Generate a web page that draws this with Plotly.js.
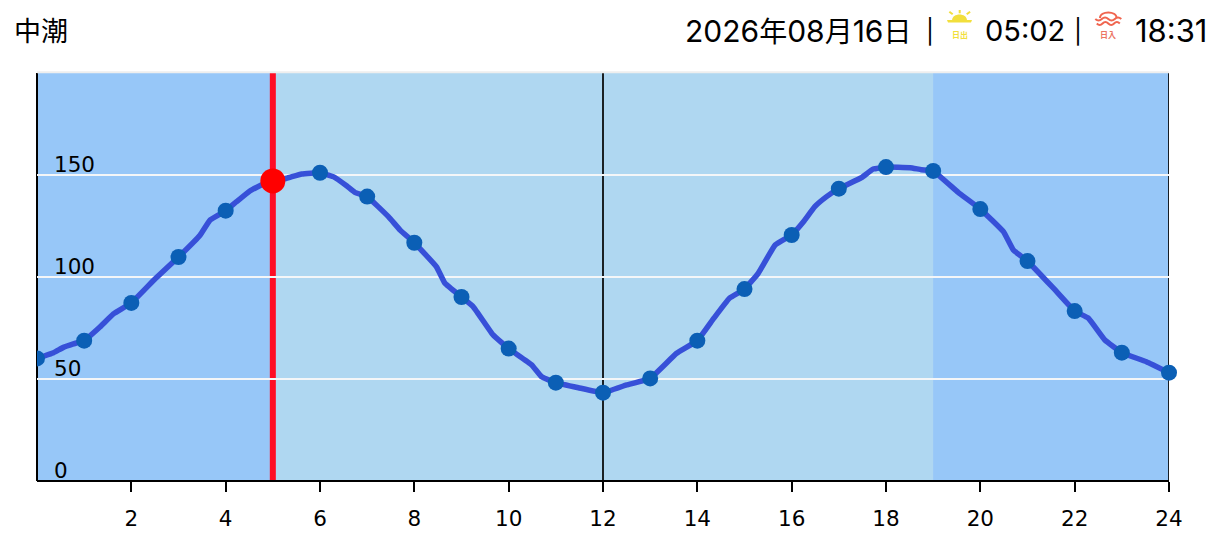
<!DOCTYPE html>
<html>
<head>
<meta charset="utf-8">
<script src="https://cdn.plot.ly/plotly-3.0.1.min.js"></script>
<style>html,body{margin:0;padding:0;background:#fff}</style>
</head>
<body>
<div id="chart" style="width:1229px;height:546px"></div>
<script>
// Tide curve
const curveHours = [0,0.35,0.56,0.77,1,1.34,1.62,2,2.5,3,3.46,3.67,4,4.23,4.52,4.8,5,5.29,5.61,6,6.28,6.57,6.74,7,7.45,7.7,8,8.47,8.65,9,9.25,9.67,10,10.49,10.7,11,11.48,12,12.5,13,13.56,14,14.35,14.68,15,15.29,15.65,16,16.25,16.49,16.74,17,17.48,17.73,18,18.51,18.75,19,19.53,20,20.49,20.7,21,21.55,22,22.29,22.64,23,23.52,24];
const curveLevels = [60.1,62.9,65.5,67.2,68.8,75.6,81.9,87.3,99.0,109.8,120.6,127.9,132.5,136.9,142.3,145.6,147.1,148.4,150.5,151.1,149.2,144.6,141.5,139.4,129.6,123.0,116.8,105.0,96.9,90.2,85.4,71.6,64.9,56.9,51.1,48.2,45.7,43.3,47.1,50.3,62.6,68.8,79.8,89.6,94.1,101.8,115.7,120.6,127.1,134.5,139.4,143.3,148.7,152.9,153.9,153.6,152.6,152.0,141.5,133.3,122.2,113.2,107.8,94.5,83.3,79.8,69.1,62.9,58.5,53.1];
// Hourly markers (the last one is allowed to overhang the plot edge)
const markerHours = [0,1,2,3,4,6,7,8,9,10,11,12,13,14,15,16,17,18,19,20,21,22,23];
const markerLevels = [60.1,68.8,87.3,109.8,132.5,151.1,139.4,116.8,90.2,64.9,48.2,43.3,50.3,68.8,94.1,120.6,143.3,153.9,152.0,133.3,107.8,83.3,62.9];
const lastHour = [24];
const lastLevel = [53.1];
// Current time
const nowHour = [5];
const nowLevel = [147.1];
// Daylight band and reference lines
const dayStart = 5, dayEnd = 19;
const blackLineHours = [12, 24];
// Axis ticks
const xTicks = [2,4,6,8,10,12,14,16,18,20,22,24];
const yTicks = [0,50,100,150];
// Header text
const tideName = '中潮';
const sep = '|';
const sunriseText = '05:02';
const sunsetText = '18:31';

const M = {l:37, r:60, t:73, b:65}, W = 1229, H = 546;
const PW = W - M.l - M.r, PH = H - M.t - M.b;
const X = px => (px - M.l) / PW;
const Y = py => (H - M.b - py) / PH;
const FONT = '"Noto Sans CJK JP", sans-serif';
const HEAD = 'Inter, "Noto Sans CJK JP", sans-serif';
const TICK = {family:'"DejaVu Sans", sans-serif', size:21.5, color:'#000'};
const kanji = c => '<span style="font-size:28px">' + c + '</span>';
const dateText = '2026' + kanji('年') + '08' + kanji('月') + '16' + kanji('日');

const note = (text, px, py, size, color, anchor, family) => ({
  text, xref:'paper', yref:'paper', x:X(px), y:Y(py), xanchor:anchor||'left', yanchor:'middle',
  showarrow:false, borderpad:0, font:{family:family||FONT, size, color:color||'#000'}
});
const icon = (path, px, py, o) => Object.assign({
  type:'path', path, xref:'paper', yref:'paper', xsizemode:'pixel', ysizemode:'pixel',
  xanchor:X(px), yanchor:Y(py), layer:'above', line:{width:0}
}, o);

const SUN = '#f2df3c', SET = '#f0654f';
const sunLine = {line:{color:SUN, width:2}, fillcolor:'rgba(0,0,0,0)'};
const setLine = {line:{color:SET, width:2}, fillcolor:'rgba(0,0,0,0)'};

const shapes = [
  {type:'rect', layer:'below', xref:'x', yref:'paper', x0:dayStart, x1:dayEnd, y0:0, y1:1, fillcolor:'#afd7f1', line:{width:0}},
  {type:'line', layer:'between', xref:'x', yref:'paper', x0:nowHour[0], x1:nowHour[0], y0:0, y1:1, line:{color:'#ff0d25', width:6}},
  {type:'line', layer:'above', xref:'paper', yref:'paper', x0:0, x1:1, y0:1.002, y1:1.002, line:{color:'#eeeeee', width:2}},
  {type:'line', layer:'between', xref:'paper', yref:'paper', x0:0, x1:0, y0:0, y1:1, line:{color:'#000', width:2}},
  {type:'line', layer:'between', xref:'paper', yref:'paper', x0:0, x1:1, y0:0, y1:0, line:{color:'#000', width:2}},
  // sunrise icon
  icon('M-7.5,0 C-7.5,8 7.5,8 7.5,0 Z', 959.5, 20.5, {fillcolor:SUN}),
  icon('M-12.5,1 L12.5,1 L11.5,-1.5 L-11.5,-1.5 Z', 959.5, 21, {fillcolor:SUN}),
  icon('M0,0 L0,3.3', 959.7, 13.3, sunLine),
  icon('M0,0 L-3.4,2.6', 952.7, 14.3, sunLine),
  icon('M0,0 L3.4,2.6', 966.7, 14.3, sunLine),
  // sunset icon
  icon('M-8.3,0 C-8.3,7.5 8.3,7.5 8.3,0', 1108.3, 18, setLine),
  icon('M-13,0 Q-9.75,-3 -6.5,0 Q-3.25,3 0,0 Q3.25,-3 6.5,0 Q9.75,3 13,0', 1108.3, 19, setLine),
  icon('M-11.5,0 Q-8.6,-3 -5.75,0 Q-2.9,3 0,0 Q2.9,-3 5.75,0 Q8.6,3 11.5,0', 1108.3, 23.5, setLine)
];
blackLineHours.forEach(h => shapes.push({type:'line', layer:'between', xref:'x', yref:'paper', x0:h, x1:h, y0:0, y1:1, line:{color:'#000', width:1.7}}));

const data = [
  {x:curveHours, y:curveLevels, mode:'lines', line:{color:'#3750d8', width:5.5, shape:'spline', smoothing:0.3}, hoverinfo:'skip', cliponaxis:true},
  {x:markerHours, y:markerLevels, mode:'markers', marker:{color:'#0b5fb5', size:16}, hoverinfo:'skip', cliponaxis:true},
  {x:lastHour, y:lastLevel, mode:'markers', marker:{color:'#0b5fb5', size:16}, hoverinfo:'skip', cliponaxis:false},
  {x:nowHour, y:nowLevel, mode:'markers', marker:{color:'#ff0000', size:25}, hoverinfo:'skip', cliponaxis:false}
];

const yLabels = yTicks.map(v => ({
  text:String(v), xref:'paper', yref:'y', x:X(53), y:v, xanchor:'left', yanchor:'middle', yshift:11,
  showarrow:false, borderpad:0, font:TICK
}));

const layout = {
  width:W, height:H, margin:M, showlegend:false,
  paper_bgcolor:'#ffffff', plot_bgcolor:'#97c7f8',
  font:TICK,
  xaxis:{range:[0,24], tickmode:'array', tickvals:xTicks, ticktext:xTicks.map(String), ticks:'outside', ticklen:10, tickwidth:1.7, tickcolor:'#000',
         tickfont:TICK, showline:false, showgrid:false, zeroline:false, tickangle:0, ticklabelstandoff:8, fixedrange:true},
  yaxis:{range:[0,200], tickmode:'array', tickvals:yTicks, ticks:'', showticklabels:false,
         showline:false, showgrid:true, gridcolor:'#f4f6f8', gridwidth:1.5, zeroline:false, fixedrange:true},
  shapes,
  annotations:yLabels.concat([
    note(tideName, 12.5, 29.5, 27),
    note(dateText, 684, 31, 30, '#000', 'left', HEAD),
    note(sep, 930, 32, 24, '#000', 'center', HEAD),
    note(sunriseText, 984, 31, 29, '#000', 'left', HEAD),
    note(sep, 1078, 32, 24, '#000', 'center', HEAD),
    note(sunsetText, 1134, 31, 31, '#000', 'left', HEAD),
    note('<b>日出</b>', 959.6, 34.5, 8, SUN, 'center'),
    note('<b>日入</b>', 1108.3, 34.5, 8, '#ec7563', 'center')
  ])
};
Plotly.newPlot('chart', data, layout, {displayModeBar:false, staticPlot:true});
</script>
</body>
</html>
